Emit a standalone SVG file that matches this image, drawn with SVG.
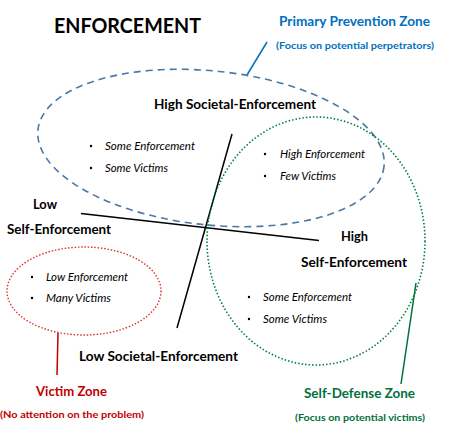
<svg xmlns="http://www.w3.org/2000/svg" width="454" height="440" viewBox="0 0 454 440">
<style>
text{font-family:Lato,"Liberation Sans",sans-serif;fill:#000}
.ax{font-size:13px;font-weight:bold}
.it{font-size:10.5px;font-style:italic}
.bul{fill:#000}
.blue{fill:#0070C0}
.red{fill:#C00000}
.green{fill:#00703C}
</style>
<rect width="454" height="440" fill="#fff"/>
<text x="54" y="33" style="font-size:20px;font-weight:bold" textLength="147" lengthAdjust="spacingAndGlyphs">ENFORCEMENT</text>

<g id="connectors" fill="none">
<line x1="81" y1="213.5" x2="319" y2="240.5" stroke="#000" stroke-width="1.5"/>
<line x1="232" y1="134" x2="177" y2="328" stroke="#000" stroke-width="1.5"/>
<line x1="247" y1="75" x2="267" y2="42" stroke="#0070C0" stroke-width="1.5"/>
<line x1="58" y1="333" x2="57" y2="375" stroke="#C00000" stroke-width="1.5"/>
<line x1="416" y1="283" x2="401" y2="384" stroke="#00703C" stroke-width="1.5"/>
</g>

<g id="primary-prevention-zone">
<ellipse cx="211" cy="148" rx="174" ry="77" transform="rotate(6 211 148)" fill="none" stroke="#4A78A8" stroke-width="1.6" stroke-dasharray="7,5"/>
<text class="ax blue" x="279" y="26" textLength="151" lengthAdjust="spacingAndGlyphs">Primary Prevention Zone</text>
<text class="blue" x="276" y="49" style="font-size:10px;font-weight:bold" textLength="158" lengthAdjust="spacingAndGlyphs">(Focus on potential perpetrators)</text>
</g>

<g id="self-defense-zone">
<ellipse cx="316" cy="241" rx="109" ry="124" fill="none" stroke="#00803C" stroke-width="1.6" stroke-dasharray="1.5,2"/>
<text class="green" x="304" y="398" style="font-size:13px;font-weight:bold" textLength="111" lengthAdjust="spacingAndGlyphs">Self-Defense Zone</text>
<text class="green" x="295" y="421" style="font-size:10px;font-weight:bold" textLength="130" lengthAdjust="spacingAndGlyphs">(Focus on potential victims)</text>
</g>

<g id="victim-zone">
<ellipse cx="84" cy="291" rx="77" ry="44" fill="none" stroke="#E0302F" stroke-width="1.4" stroke-dasharray="1.5,1.8"/>
<text class="red" x="36" y="396" style="font-size:13px;font-weight:bold" textLength="71" lengthAdjust="spacingAndGlyphs">Victim Zone</text>
<text class="red" x="0" y="418" style="font-size:10px;font-weight:bold" textLength="144" lengthAdjust="spacingAndGlyphs">(No attention on the problem)</text>
</g>

<g id="axis-labels">
<text class="ax" x="154" y="109" textLength="162" lengthAdjust="spacingAndGlyphs">High Societal-Enforcement</text>
<text class="ax" x="33" y="209" textLength="24" lengthAdjust="spacingAndGlyphs">Low</text>
<text class="ax" x="7" y="234" textLength="104" lengthAdjust="spacingAndGlyphs">Self-Enforcement</text>
<text class="ax" x="341" y="241" textLength="27" lengthAdjust="spacingAndGlyphs">High</text>
<text class="ax" x="301" y="267" textLength="106" lengthAdjust="spacingAndGlyphs">Self-Enforcement</text>
<text class="ax" x="79" y="361" textLength="159" lengthAdjust="spacingAndGlyphs">Low Societal-Enforcement</text>
</g>

<g id="quadrant-top-left">
<circle class="bul" cx="91" cy="146" r="1.2"/>
<text class="it" x="105" y="150" textLength="90" lengthAdjust="spacingAndGlyphs">Some Enforcement</text>
<circle class="bul" cx="91" cy="168" r="1.2"/>
<text class="it" x="105" y="172" textLength="63" lengthAdjust="spacingAndGlyphs">Some Victims</text>
</g>

<g id="quadrant-top-right">
<circle class="bul" cx="265" cy="154" r="1.2"/>
<text class="it" x="280" y="158" textLength="85" lengthAdjust="spacingAndGlyphs">High Enforcement</text>
<circle class="bul" cx="265" cy="176" r="1.2"/>
<text class="it" x="280" y="180" textLength="56" lengthAdjust="spacingAndGlyphs">Few Victims</text>
</g>

<g id="quadrant-bottom-left">
<circle class="bul" cx="32" cy="277" r="1.2"/>
<text class="it" x="46" y="281" textLength="82" lengthAdjust="spacingAndGlyphs">Low Enforcement</text>
<circle class="bul" cx="32" cy="298" r="1.2"/>
<text class="it" x="46" y="302" textLength="65" lengthAdjust="spacingAndGlyphs">Many Victims</text>
</g>

<g id="quadrant-bottom-right">
<circle class="bul" cx="249" cy="297" r="1.2"/>
<text class="it" x="263" y="301" textLength="89" lengthAdjust="spacingAndGlyphs">Some Enforcement</text>
<circle class="bul" cx="249" cy="319" r="1.2"/>
<text class="it" x="263" y="323" textLength="64" lengthAdjust="spacingAndGlyphs">Some Victims</text>
</g>
</svg>
